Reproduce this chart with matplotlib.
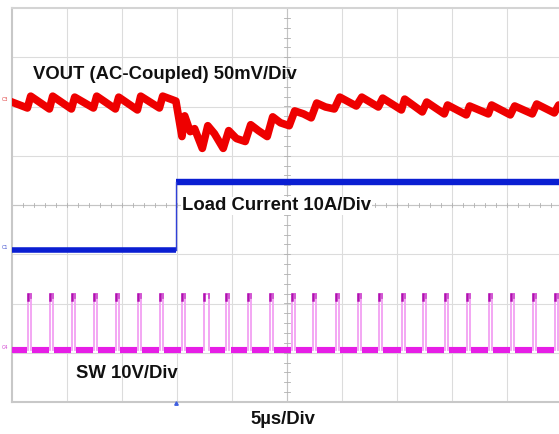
import numpy as np
import matplotlib.pyplot as plt

# scope screen: 10 div x 5us, 8 div vertical
t_min, t_max = -25.0, 25.0
n_vdiv = 4

# VOUT (AC coupled), mV (peaks / troughs around each switching cycle)
vout_t = [-25.0, -23.6, -23.3, -21.6, -21.3, -19.6, -19.3, -17.6, -17.3, -15.6, -15.3,
          -13.6, -13.3, -11.6, -11.3, -10.1, -9.55, -9.3, -8.8, -8.4, -7.7, -7.2, -6.6,
          -5.8, -5.3, -4.6, -3.8, -3.3, -2.6, -1.8, -1.3, -0.6, 0.2, 0.7, 1.5, 2.2, 2.7,
          3.5, 4.3, 4.8, 6.3, 6.8, 8.3, 8.7, 10.4, 10.7, 12.3, 12.7, 14.3, 14.6, 16.3,
          16.6, 18.3, 18.6, 20.3, 20.7, 22.3, 22.7, 24.3, 24.7, 25.0]
vout_mv = [-3, -9, 3, -10, 3, -10, 2, -9, 3, -10, 2,
           -11, 3, -9, 3, -2, -38, -17, -33, -30, -50, -27, -35,
           -50, -32, -40, -43, -26, -32, -38, -18, -24, -27, -12, -15, -19, -4,
           -8, -10, 2, -7, 2, -8, 1, -11, 0, -13, -3, -15, -6, -16,
           -7, -15, -6, -16, -7, -15, -5, -14, -6, -8]

# load current step, A
i_step_t = -10.1
i_low = 0.0
i_high = 13.7

# SW node pulses: start time (us), width (us), level (V)
sw_t = [-23.55, -21.55, -19.55, -17.55, -15.55, -13.55, -11.55, -9.55, -7.55, -5.55,
        -3.55, -1.55, 0.45, 2.36, 4.45, 6.45, 8.36, 10.45, 12.36, 14.36, 16.36,
        18.36, 20.36, 22.36, 24.36]
sw_w = [0.27, 0.27, 0.27, 0.27, 0.27, 0.27, 0.27, 0.27, 0.45, 0.3,
        0.27, 0.27, 0.27, 0.27, 0.27, 0.27, 0.27, 0.27, 0.27, 0.27, 0.27,
        0.27, 0.27, 0.27, 0.27]
sw_low = 0.0
sw_high = 11.4

# volts/amps per div and ground marker position (div) for each channel
vout_scale, vout_pos = 50.0, 2.15
i_scale, i_pos = 10.0, -0.91
sw_scale, sw_pos = 10.0, -2.94

fig = plt.figure(figsize=(5.59, 4.34), dpi=100)
ax = fig.add_axes([12 / 559, 32 / 434, 550 / 559, 394 / 434])
ax.set_xlim(t_min, t_max)
ax.set_ylim(-n_vdiv, n_vdiv)
ax.axis('off')

# graticule
grid_c = '#dcdcdc'
for gx in np.arange(t_min + 5, t_max, 5):
    ax.axvline(gx, color=grid_c, lw=0.8, zorder=1)
for gy in range(-n_vdiv + 1, n_vdiv):
    ax.axhline(gy, color=grid_c, lw=0.8, zorder=1)
ax.axhline(0, color='#c4c4c4', lw=0.8, zorder=1)
ax.axvline(0, color='#c4c4c4', lw=0.8, zorder=1)
for tx in np.arange(t_min, t_max, 1.0):
    ax.plot([tx, tx], [-0.04, 0.04], color='#b0b0b0', lw=0.6, zorder=1)
for ty in np.arange(-n_vdiv, n_vdiv, 0.2):
    ax.plot([-0.25, 0.25], [ty, ty], color='#b0b0b0', lw=0.6, zorder=1)
# frame
ax.plot([t_min, t_min], [-n_vdiv, n_vdiv], color='#c8c8c8', lw=1.5, zorder=2, clip_on=False)
ax.plot([t_min, t_max], [n_vdiv, n_vdiv], color='#d4d4d4', lw=1.5, zorder=2, clip_on=False)
ax.plot([t_min, t_max], [-n_vdiv, -n_vdiv], color='#c8c8c8', lw=1.5, zorder=2, clip_on=False)

# VOUT
vt = np.array(vout_t)
vv = vout_pos + np.array(vout_mv) / vout_scale
ax.plot(vt, vv, color='#ee0000', lw=5.5, solid_joinstyle='round', zorder=5)

# load current
il = i_pos + i_low / i_scale
ih = i_pos + i_high / i_scale
ax.plot([t_min, i_step_t], [il, il], color='#0a1ed2', lw=4.0, solid_capstyle='butt', zorder=4)
ax.plot([i_step_t, t_max], [ih, ih], color='#0a1ed2', lw=4.6, solid_capstyle='butt', zorder=4)
ax.plot([i_step_t, i_step_t], [il, ih], color='#3040d8', lw=1.0, zorder=4)

# SW node
sl = sw_pos + sw_low / sw_scale
sh = sw_pos + sw_high / sw_scale
gap = 0.12
edges = [t_min] + [v for s, w in zip(sw_t, sw_w) for v in (s - gap, s + w + gap)] + [t_max]
for a, b in zip(edges[0::2], edges[1::2]):
    if b > a:
        ax.plot([a, b], [sl, sl], color='#e61ee6', lw=4.4, solid_capstyle='butt', zorder=3)
for s, w in zip(sw_t, sw_w):
    ax.plot([s, s, s + w, s + w], [sl, sh, sh, sl], color='#f2a0f2', lw=1.3, zorder=3)
    ax.plot([s, s], [sh - 0.13, sh], color='#b010b0', lw=1.8, zorder=3)
    ax.plot([s + w, s + w], [sh - 0.08, sh], color='#d050d0', lw=1.3, zorder=3)

# channel ground markers
ax.text(t_min - 0.3, vout_pos, 'C3', color='#e04040', fontsize=3.5, ha='right', va='center', clip_on=False)
ax.text(t_min - 0.3, il + 0.05, 'C1', color='#4050d0', fontsize=3.5, ha='right', va='center', clip_on=False)
ax.text(t_min - 0.3, sl + 0.05, 'C4', color='#d040d0', fontsize=3.5, ha='right', va='center', clip_on=False)
ax.plot([i_step_t], [-n_vdiv - 0.03], marker='^', ms=2.5, color='#4060e0', clip_on=False, zorder=6)

# labels
lbl = dict(fontsize=13.3, fontweight='bold', family='Liberation Sans', color='#111111', zorder=8)
ax.text(-23.1, 2.65, 'VOUT (AC-Coupled) 50mV/Div', ha='left', va='center', **lbl)
ax.text(-9.55, -0.02, 'Load Current 10A/Div', ha='left', va='center',
        bbox=dict(facecolor='white', edgecolor='none', pad=0.5), **lbl)
ax.text(-19.2, -3.42, 'SW 10V/Div', ha='left', va='center', **lbl)
fig.text(283 / 559, 1 - 420 / 434, '5µs/Div', ha='center', va='center',
         fontsize=13.3, fontweight='bold', family='Liberation Sans', color='#111111')

fig.savefig('out.png', dpi=100)
